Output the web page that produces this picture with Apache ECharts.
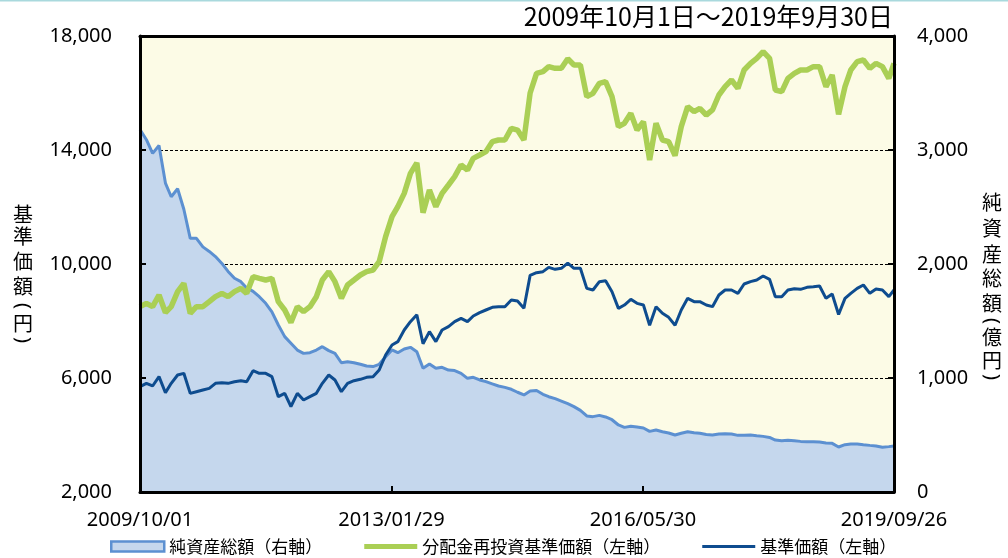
<!DOCTYPE html>
<html>
<head>
<meta charset="utf-8">
<script src="https://cdn.jsdelivr.net/npm/echarts/dist/echarts.min.js"></script>
<style>
html,body{margin:0;padding:0;background:#fff;}
#chart{width:1008px;height:558px;}
</style>
</head>
<body>
<div id="chart"></div>
<script>
// ---- data ----
const titleText = '2009年10月1日～2019年9月30日';
const seriesNames = ['純資産総額（右軸）', '分配金再投資基準価額（左軸）', '基準価額（左軸）'];
const leftAxisName = ['基', '準', '価', '額', '（', '円', '）'];
const rightAxisName = ['純', '資', '産', '総', '額', '（', '億', '円', '）'];
const xStart = '2009/10/01';
const xEnd = '2019/09/26';
const xTickLabels = ['2009/10/01', '2013/01/29', '2016/05/30', '2019/09/26'];

const dates = [
  '2009/10/01','2009/11/01','2009/12/01',
  '2010/01/01','2010/02/01','2010/03/01','2010/04/01','2010/05/01','2010/06/01','2010/07/01','2010/08/01','2010/09/01','2010/10/01','2010/11/01','2010/12/01',
  '2011/01/01','2011/02/01','2011/03/01','2011/04/01','2011/05/01','2011/06/01','2011/07/01','2011/08/01','2011/09/01','2011/10/01','2011/11/01','2011/12/01',
  '2012/01/01','2012/02/01','2012/03/01','2012/04/01','2012/05/01','2012/06/01','2012/07/01','2012/08/01','2012/09/01','2012/10/01','2012/11/01','2012/12/01',
  '2013/01/01','2013/02/01','2013/03/01','2013/04/01','2013/05/01','2013/06/01','2013/07/01','2013/08/01','2013/09/01','2013/10/01','2013/11/01','2013/12/01',
  '2014/01/01','2014/02/01','2014/03/01','2014/04/01','2014/05/01','2014/06/01','2014/07/01','2014/08/01','2014/09/01','2014/10/01','2014/11/01','2014/12/01',
  '2015/01/01','2015/02/01','2015/03/01','2015/04/01','2015/05/01','2015/06/01','2015/07/01','2015/08/01','2015/09/01','2015/10/01','2015/11/01','2015/12/01',
  '2016/01/01','2016/02/01','2016/03/01','2016/04/01','2016/05/01','2016/06/01','2016/07/01','2016/08/01','2016/09/01','2016/10/01','2016/11/01','2016/12/01',
  '2017/01/01','2017/02/01','2017/03/01','2017/04/01','2017/05/01','2017/06/01','2017/07/01','2017/08/01','2017/09/01','2017/10/01','2017/11/01','2017/12/01',
  '2018/01/01','2018/02/01','2018/03/01','2018/04/01','2018/05/01','2018/06/01','2018/07/01','2018/08/01','2018/09/01','2018/10/01','2018/11/01','2018/12/01',
  '2019/01/01','2019/02/01','2019/03/01','2019/04/01','2019/05/01','2019/06/01','2019/07/01','2019/08/01','2019/09/01','2019/09/26'
];

// 純資産総額（億円, right axis)
const netAssets = [
  3180, 3090, 2970,
  3040, 2710, 2590, 2660, 2480, 2225, 2225, 2150, 2110, 2065, 2005, 1935,
  1875, 1845, 1790, 1760, 1713, 1655, 1580, 1465, 1363, 1305, 1245, 1216,
  1222, 1245, 1275, 1240, 1216, 1134, 1143, 1134, 1120, 1105, 1100, 1120,
  1187, 1246, 1222, 1254, 1269, 1230, 1085, 1123, 1085, 1094, 1070, 1065,
  1041, 997, 1006, 983, 968, 948, 930, 918, 901, 875, 851, 886,
  890, 857, 836, 819, 798, 775, 749, 716, 667, 661, 672, 658,
  634, 588, 567, 576, 570, 561, 532, 544, 529, 518, 500, 515,
  529, 520, 515, 505, 500, 509, 512, 509, 497, 497, 500, 494,
  488, 479, 456, 450, 453, 450, 444, 441, 441, 438, 430, 427,
  395, 415, 421, 421, 415, 409, 404, 392, 398, 404
];

// 分配金再投資基準価額（円, left axis)
const reinvestNav = [
  8503, 8620, 8503,
  8912, 8300, 8503, 9029, 9322, 8269, 8503, 8503, 8678, 8854, 8971, 8854,
  9029, 9146, 8971, 9555, 9497, 9438, 9497, 8678, 8386, 7950, 8503, 8327,
  8503, 8854, 9438, 9731, 9380, 8795, 9263, 9438, 9614, 9731, 9789, 10082,
  10959, 11661, 12012, 12479, 13181, 13550, 11800, 12596, 12012, 12479, 12772, 13064,
  13474, 13298, 13708, 13825, 13942, 14292, 14351, 14351, 14760, 14700, 14351, 16000,
  16690, 16748, 16924, 16866, 16866, 17200, 16982, 16982, 15871, 15988, 16339, 16398,
  15871, 14819, 14936, 15286, 14702, 14994, 13650, 14936, 14351, 14292, 13800, 14819,
  15521, 15345, 15462, 15228, 15404, 15930, 16222, 16456, 16164, 16807, 17041, 17216,
  17450, 17216, 16105, 16047, 16515, 16690, 16807, 16807, 16924, 16924, 16222, 16632,
  15250, 16222, 16807, 17099, 17158, 16865, 17041, 16924, 16515, 17041
];

// 基準価額（円, left axis)
const nav = [
  5696, 5813, 5720,
  6047, 5480, 5813, 6105, 6164, 5462, 5520, 5579, 5637, 5813, 5836, 5813,
  5871, 5906, 5871, 6257, 6164, 6164, 6047, 5345, 5462, 5000, 5462, 5228,
  5345, 5462, 5813, 6105, 5930, 5520, 5813, 5906, 5953, 6023, 6047, 6281,
  6807, 7158, 7275, 7684, 7977, 8220, 7200, 7626, 7275, 7684, 7801, 7977,
  8094, 7977, 8175, 8292, 8386, 8479, 8503, 8503, 8737, 8700, 8444, 9600,
  9696, 9731, 9883, 9813, 9848, 10030, 9848, 9848, 9146, 9087, 9380, 9415,
  9029, 8444, 8561, 8760, 8620, 8561, 7850, 8503, 8269, 8128, 7850, 8386,
  8795, 8678, 8678, 8561, 8503, 8912, 9087, 9087, 8971, 9298, 9380, 9438,
  9580, 9462, 8854, 8854, 9087, 9134, 9111, 9181, 9204, 9228, 8795, 8947,
  8230, 8795, 8971, 9146, 9263, 8971, 9123, 9087, 8854, 9087
];

// ---- helpers ----
function toTime(s) {
  const p = s.split('/').map(Number);
  return new Date(p[0], p[1] - 1, p[2]).getTime();
}
const fmt = v => Math.round(v).toLocaleString('en-US');
const tickTimes = xTickLabels.map(toTime);
function xLabel(v) {
  let best = 0, bd = Infinity;
  tickTimes.forEach((t, i) => { const d = Math.abs(t - v); if (d < bd) { bd = d; best = i; } });
  return xTickLabels[best];
}
const pair = arr => dates.map((d, i) => [toTime(d), arr[i]]);

const CJK = "'Noto Sans CJK JP', 'Noto Sans', sans-serif";
const LAT = "'Noto Sans', 'DejaVu Sans', sans-serif";
const C_AREA = '#C5D7ED', C_AREA_LINE = '#5C90D1', C_GREEN = '#AACF55', C_NAVY = '#0E4C8F';

// vertical axis titles: one text element per character, brackets turned to vertical form
function verticalTitle(chars, cx, ys) {
  return chars.map((c, i) => {
    const isBracket = (c === '（' || c === '）');
    return {
      type: 'text', x: cx, y: ys[i], silent: true,
      rotation: isBracket ? -Math.PI / 2 : 0,
      style: {
        text: isBracket ? (c === '（' ? '(' : ')') : c,
        fontSize: 20, fontFamily: isBracket ? LAT : CJK,
        fill: '#000', align: 'center', verticalAlign: 'middle'
      }
    };
  });
}
const leftNameY = [214, 236, 261, 286, 306, 323, 340];
const rightNameY = [202, 228, 254, 278, 303, 321, 337, 360, 377];

const chart = echarts.init(document.getElementById('chart'), null, { renderer: 'canvas' });
const xMin = toTime(xStart), xMax = toTime(xEnd);

const option = {
  animation: false,
  backgroundColor: '#ffffff',
  title: {
    text: titleText,
    right: 115, top: 4, padding: 0,
    textStyle: { fontSize: 25, fontWeight: 'normal', fontFamily: CJK, color: '#000' }
  },
  graphic: [
    { type: 'rect', shape: { x: 0, y: 0, width: 1008, height: 1.5 }, style: { fill: '#A9D9DD' }, silent: true }
  ].concat(verticalTitle(leftAxisName, 23, leftNameY), verticalTitle(rightAxisName, 992, rightNameY)),
  legend: {
    left: 110, top: 538, padding: 0,
    itemWidth: 53, itemHeight: 10, itemGap: 42, symbolKeepAspect: true,
    textStyle: { fontSize: 17, fontFamily: CJK, color: '#000' },
    data: [
      { name: seriesNames[0], icon: 'rect', itemStyle: { color: C_AREA, borderColor: C_AREA_LINE, borderWidth: 2.5 } },
      { name: seriesNames[1], icon: 'path://M0,0L53,0L53,5L0,5Z', itemStyle: { color: C_GREEN, borderWidth: 0 } },
      { name: seriesNames[2], icon: 'path://M0,0L53,0L53,3L0,3Z', itemStyle: { color: C_NAVY, borderWidth: 0 } }
    ]
  },
  grid: {
    left: 140, right: 114, top: 36, bottom: 66,
    show: true, backgroundColor: '#FCFBE6', borderWidth: 0
  },
  xAxis: [
    {
      type: 'value', min: xMin, max: xMax, z: 10,
      axisLine: { show: true, onZero: false, lineStyle: { color: '#000', width: 3 } },
      axisTick: { show: true, inside: true, length: 6, customValues: tickTimes, lineStyle: { color: '#000', width: 2 } },
      axisLabel: {
        customValues: tickTimes, formatter: xLabel, margin: 18,
        fontSize: 20, fontFamily: LAT, color: '#000',
        showMinLabel: true, showMaxLabel: true, hideOverlap: false
      },
      splitLine: { show: false }
    },
    {
      type: 'value', min: xMin, max: xMax, position: 'top', z: 10,
      axisLine: { show: true, onZero: false, lineStyle: { color: '#000', width: 3 } },
      axisTick: { show: false }, axisLabel: { show: false }, splitLine: { show: false }
    }
  ],
  yAxis: [
    {
      type: 'value', min: 2000, max: 18000, interval: 4000, position: 'left', z: 10,
      axisLine: { show: true, onZero: false, lineStyle: { color: '#000', width: 3 } },
      axisTick: { show: true, inside: true, length: 6, lineStyle: { color: '#000', width: 2 } },
      axisLabel: { formatter: fmt, margin: 28, fontSize: 20, fontFamily: LAT, color: '#000' },
      splitLine: { show: false }
    },
    {
      type: 'value', min: 0, max: 4000, interval: 1000, position: 'right', z: 10,
      axisLine: { show: true, onZero: false, lineStyle: { color: '#000', width: 3 } },
      axisTick: { show: true, inside: true, length: 6, lineStyle: { color: '#000', width: 2 } },
      axisLabel: { formatter: fmt, margin: 23, fontSize: 20, fontFamily: LAT, color: '#000' },
      splitLine: { show: false }
    },
    {
      // dashed grid lines, drawn beneath the series
      type: 'value', min: 2000, max: 18000, interval: 4000, position: 'left', z: 0,
      axisLine: { show: false }, axisTick: { show: false }, axisLabel: { show: false },
      splitLine: { show: true, lineStyle: { color: '#000', width: 1, type: [3, 2] } }
    }
  ],
  series: [
    {
      name: seriesNames[0], type: 'line', yAxisIndex: 1, xAxisIndex: 0,
      data: pair(netAssets), symbol: 'none', smooth: false,
      lineStyle: { color: C_AREA_LINE, width: 3 },
      itemStyle: { color: C_AREA_LINE },
      areaStyle: { color: C_AREA, opacity: 1 },
      z: 2
    },
    {
      name: seriesNames[1], type: 'line', yAxisIndex: 0, xAxisIndex: 0,
      data: pair(reinvestNav), symbol: 'none', smooth: false,
      lineStyle: { color: C_GREEN, width: 5.5 },
      itemStyle: { color: C_GREEN },
      z: 3
    },
    {
      name: seriesNames[2], type: 'line', yAxisIndex: 0, xAxisIndex: 0,
      data: pair(nav), symbol: 'none', smooth: false,
      lineStyle: { color: C_NAVY, width: 3 },
      itemStyle: { color: C_NAVY },
      z: 4
    }
  ]
};
chart.setOption(option);
</script>
</body>
</html>
